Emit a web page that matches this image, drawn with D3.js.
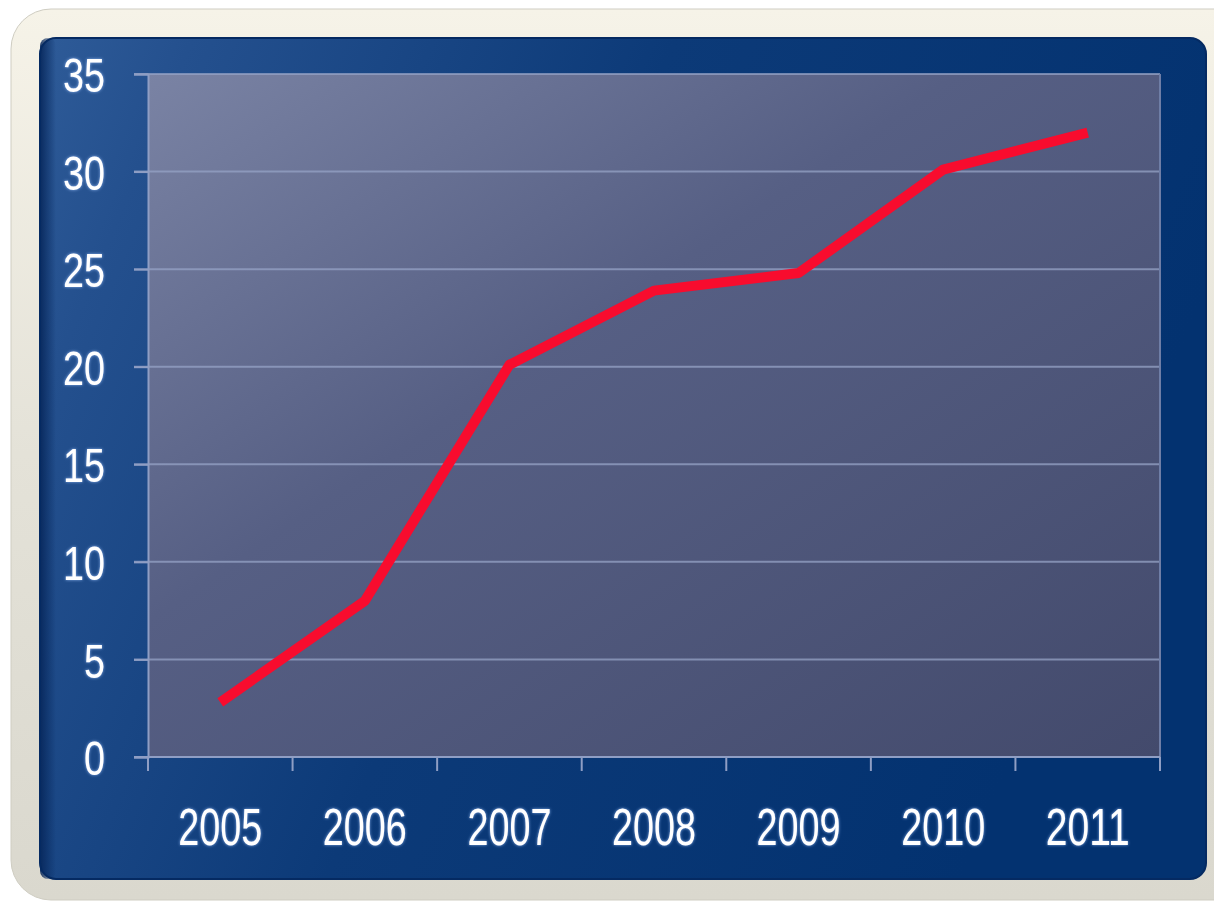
<!DOCTYPE html>
<html>
<head>
<meta charset="utf-8">
<script src="https://cdn.jsdelivr.net/npm/d3@7"></script>
<style>
  html, body { margin: 0; padding: 0; background: #ffffff; }
  svg { display: block; }
</style>
</head>
<body>
<script>
var years = ['2005','2006','2007','2008','2009','2010','2011'];
var values = [2.8, 8, 20.1, 23.9, 24.8, 30.1, 32];
var yTicks = [0, 5, 10, 15, 20, 25, 30, 35];

var W = 1214, H = 903;
var plot = {left: 148, right: 1160, top: 74, bottom: 757};
var digitW = 21; // condensed digit width

var svg = d3.select("body").append("svg").attr("width", W).attr("height", H);
var defs = svg.append("defs");

// gradients
var g1 = defs.append("linearGradient").attr("id","outerGrad").attr("x1",0).attr("y1",0).attr("x2",0).attr("y2",1);
g1.append("stop").attr("offset","0").attr("stop-color","#f6f3e8");
g1.append("stop").attr("offset","0.5").attr("stop-color","#e4e2d8");
g1.append("stop").attr("offset","1").attr("stop-color","#dad8ce");

var g2 = defs.append("linearGradient").attr("id","frameGrad").attr("x1",0).attr("y1",0).attr("x2",1).attr("y2",0.3);
g2.append("stop").attr("offset","0").attr("stop-color","#2e5b98");
g2.append("stop").attr("offset","0.12").attr("stop-color","#24508e");
g2.append("stop").attr("offset","0.5").attr("stop-color","#0c3a78");
g2.append("stop").attr("offset","1").attr("stop-color","#033270");

var g3 = defs.append("linearGradient").attr("id","plotGrad").attr("x1",0).attr("y1",0).attr("x2",1).attr("y2",1);
g3.append("stop").attr("offset","0").attr("stop-color","#7a83a4");
g3.append("stop").attr("offset","0.4").attr("stop-color","#565f84");
g3.append("stop").attr("offset","1").attr("stop-color","#434a6c");

var g4 = defs.append("linearGradient").attr("id","edgeGrad").attr("x1",0).attr("y1",0).attr("x2",1).attr("y2",0);
g4.append("stop").attr("offset","0").attr("stop-color","#06265a").attr("stop-opacity",0.9);
g4.append("stop").attr("offset","1").attr("stop-color","#06265a").attr("stop-opacity",0);

var glow = defs.append("filter").attr("id","glow").attr("x","-20%").attr("y","-20%").attr("width","140%").attr("height","140%");
glow.append("feGaussianBlur").attr("in","SourceAlpha").attr("stdDeviation",1.6).attr("result","b");
glow.append("feFlood").attr("flood-color","#9fc4ff").attr("flood-opacity",0.8);
glow.append("feComposite").attr("in2","b").attr("operator","in").attr("result","c");
var fm = glow.append("feMerge");
fm.append("feMergeNode").attr("in","c");
fm.append("feMergeNode").attr("in","SourceGraphic");

// outer light frame
svg.append("rect").attr("x",11).attr("y",9).attr("width",W+30).attr("height",891)
  .attr("rx",40).attr("fill","url(#outerGrad)").attr("stroke","#cfcdc2").attr("stroke-width",1);

// dark blue panel
svg.append("rect").attr("x",40).attr("y",38).attr("width",1166).attr("height",841)
  .attr("rx",16).attr("fill","url(#frameGrad)");
svg.append("rect").attr("x",40).attr("y",38).attr("width",16).attr("height",841)
  .attr("rx",8).attr("fill","url(#edgeGrad)");
svg.append("rect").attr("x",40).attr("y",38).attr("width",1166).attr("height",841)
  .attr("rx",16).attr("fill","none").attr("stroke","#052a62").attr("stroke-width",2);

// scales
var x = d3.scaleBand().domain(years).range([plot.left, plot.right]).padding(0);
var y = d3.scaleLinear().domain([0, 35]).range([plot.bottom, plot.top]);

// plot area
svg.append("rect").attr("x",plot.left).attr("y",y(35))
  .attr("width",plot.right-plot.left).attr("height",y(0)-y(35))
  .attr("fill","url(#plotGrad)");

// grid lines
svg.append("g").selectAll("line")
  .data(yTicks.filter(function(d){ return d > 0; }))
  .enter().append("line")
    .attr("x1", plot.left - 14).attr("x2", plot.right)
    .attr("y1", function(d){ return y(d); }).attr("y2", function(d){ return y(d); })
    .attr("stroke","#95a3c6").attr("stroke-opacity",0.75).attr("stroke-width",2);

// y axis
var yAxis = svg.append("g").attr("transform","translate(" + plot.left + ",0)")
  .call(d3.axisLeft(y).tickValues(yTicks).tickSize(14).tickPadding(29));
yAxis.select(".domain").attr("stroke","#8f9ec4").attr("stroke-width",2);
yAxis.selectAll(".tick line").attr("stroke","#8f9ec4").attr("stroke-width",2);
yAxis.selectAll("text")
  .attr("fill","#ffffff").attr("font-family","'Liberation Sans',Arial,sans-serif")
  .attr("font-size",49).attr("filter","url(#glow)").attr("dy","0.36em")
  .attr("textLength", function(d){ return String(d).length * digitW; })
  .attr("lengthAdjust","spacingAndGlyphs");

// right border of plot
svg.append("line").attr("x1",plot.right).attr("x2",plot.right)
  .attr("y1",y(35)).attr("y2",y(0)+14)
  .attr("stroke","#6f7ea6").attr("stroke-width",2);

// x axis
var xAxis = svg.append("g").attr("transform","translate(0," + plot.bottom + ")")
  .call(d3.axisBottom(x).tickSize(0).tickPadding(88));
xAxis.select(".domain").remove();
xAxis.selectAll("text")
  .attr("fill","#ffffff").attr("font-family","'Liberation Sans',Arial,sans-serif")
  .attr("font-size",51).attr("filter","url(#glow)").attr("dy","0")
  .attr("textLength", function(d){ return d.length * digitW; })
  .attr("lengthAdjust","spacingAndGlyphs");
svg.append("line").attr("x1",plot.left - 14).attr("x2",plot.right)
  .attr("y1",plot.bottom).attr("y2",plot.bottom)
  .attr("stroke","#8f9ec4").attr("stroke-width",2);
svg.append("g").selectAll("line")
  .data(years.concat(["end"]))
  .enter().append("line")
    .attr("x1", function(d){ return d === "end" ? plot.right : x(d); })
    .attr("x2", function(d){ return d === "end" ? plot.right : x(d); })
    .attr("y1", plot.bottom).attr("y2", plot.bottom + 14)
    .attr("stroke","#8f9ec4").attr("stroke-width",2);

// data line
var line = d3.line()
  .x(function(d,i){ return x(years[i]) + x.bandwidth()/2; })
  .y(function(d){ return y(d); });
svg.append("path").datum(values)
  .attr("d", line)
  .attr("fill","none").attr("stroke","#f80c2e").attr("stroke-width",10)
  .attr("stroke-linejoin","round").attr("stroke-linecap","butt");
</script>
</body>
</html>
